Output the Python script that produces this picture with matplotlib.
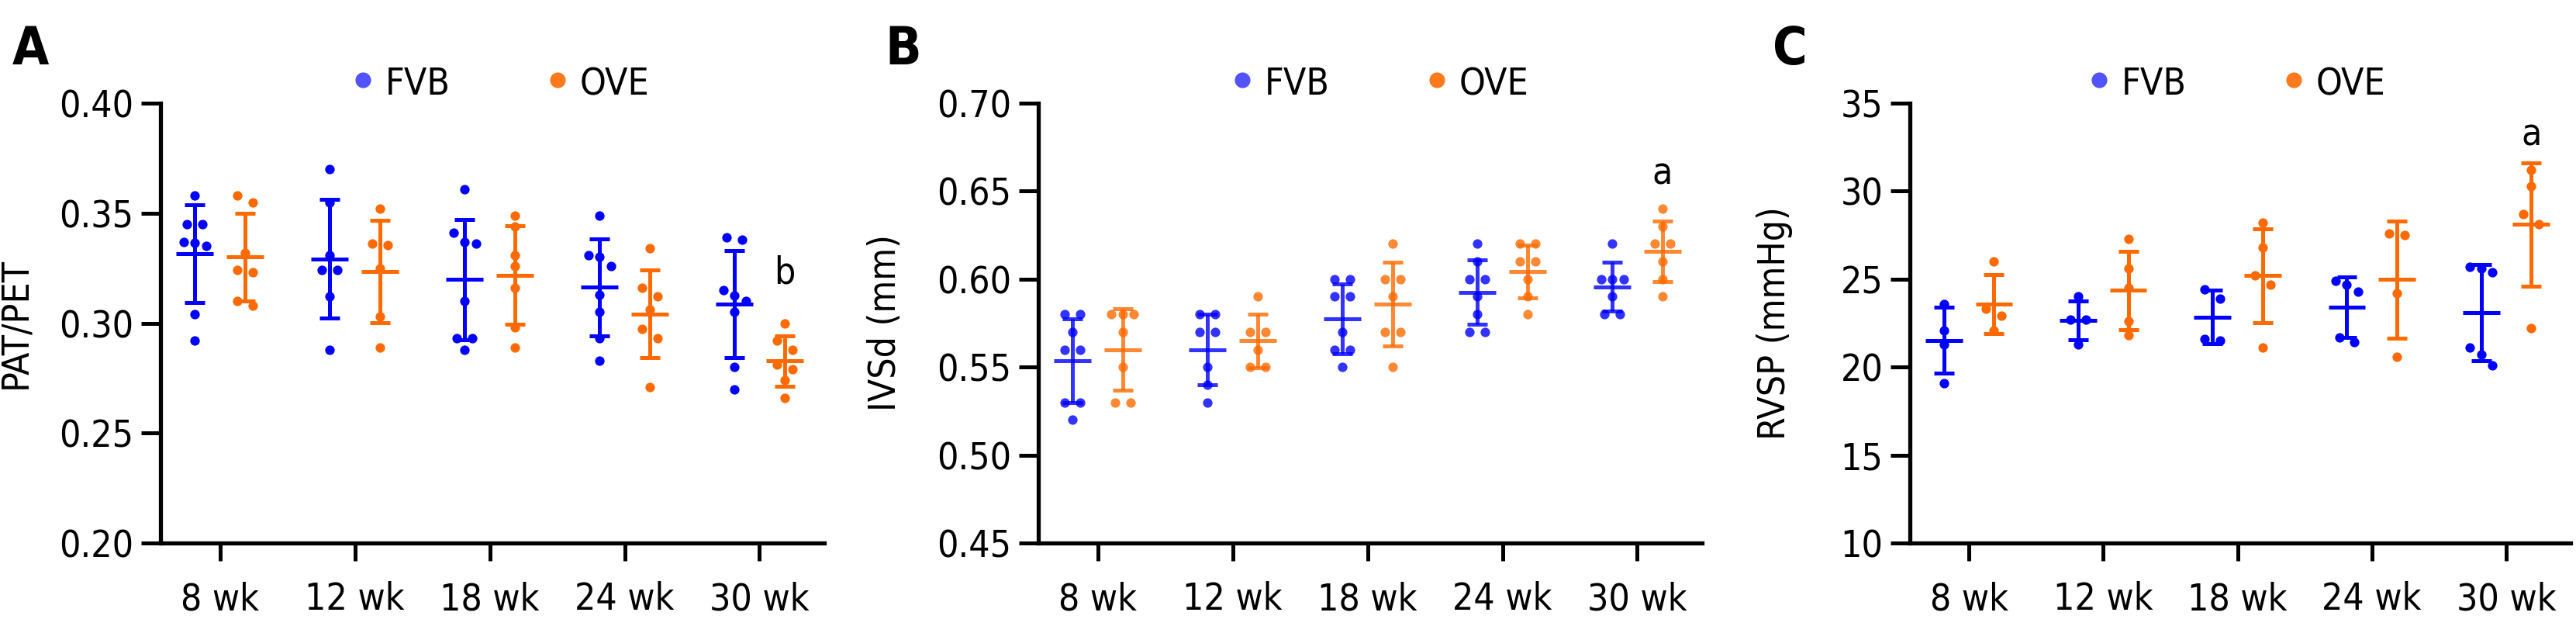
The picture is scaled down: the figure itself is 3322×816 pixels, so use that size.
import numpy as np
import matplotlib
matplotlib.use('Agg')
import matplotlib.pyplot as plt

plt.rcParams['font.family'] = ['DejaVu Sans']
plt.rcParams['font.stretch'] = 'condensed'

weeks = ['8 wk', '12 wk', '18 wk', '24 wk', '30 wk']
groups = ['FVB', 'OVE']

# A: PAT/PET, one list of animals per week
pat_fvb = [
    [0.358, 0.345, 0.345, 0.337, 0.3365, 0.335, 0.304, 0.292],
    [0.370, 0.355, 0.331, 0.324, 0.324, 0.312, 0.288],
    [0.361, 0.341, 0.337, 0.336, 0.310, 0.293, 0.293, 0.288],
    [0.349, 0.331, 0.330, 0.326, 0.313, 0.305, 0.293, 0.283],
    [0.339, 0.338, 0.315, 0.3125, 0.310, 0.305, 0.280, 0.270],
]
pat_ove = [
    [0.358, 0.355, 0.332, 0.324, 0.323, 0.310, 0.308],
    [0.352, 0.336, 0.3355, 0.325, 0.303, 0.289],
    [0.349, 0.344, 0.331, 0.326, 0.316, 0.298, 0.289],
    [0.334, 0.316, 0.312, 0.306, 0.2975, 0.293, 0.271],
    [0.300, 0.292, 0.288, 0.281, 0.279, 0.274, 0.266],
]

# B: IVSd (mm)
ivsd_fvb = [
    [0.58, 0.58, 0.57, 0.56, 0.56, 0.53, 0.53, 0.52],
    [0.58, 0.58, 0.57, 0.57, 0.55, 0.54, 0.53],
    [0.60, 0.60, 0.59, 0.59, 0.57, 0.56, 0.56, 0.55],
    [0.62, 0.61, 0.60, 0.60, 0.59, 0.58, 0.57, 0.57],
    [0.62, 0.60, 0.60, 0.60, 0.59, 0.58, 0.58],
]
ivsd_ove = [
    [0.58, 0.58, 0.58, 0.57, 0.55, 0.53, 0.53],
    [0.59, 0.57, 0.57, 0.56, 0.55, 0.55],
    [0.62, 0.60, 0.60, 0.59, 0.57, 0.57, 0.55],
    [0.62, 0.62, 0.61, 0.61, 0.60, 0.59, 0.58],
    [0.64, 0.63, 0.62, 0.62, 0.61, 0.60, 0.59],
]

# C: RVSP (mmHg)
rvsp_fvb = [
    [23.6, 22.1, 21.3, 19.1],
    [24.0, 22.7, 22.7, 21.3],
    [24.4, 23.9, 21.6, 21.5],
    [24.9, 24.7, 24.3, 21.7, 21.4],
    [25.7, 25.6, 25.4, 21.1, 20.7, 20.1],
]
rvsp_ove = [
    [26.0, 23.3, 22.9, 22.1],
    [27.3, 25.6, 24.5, 22.6, 21.8],
    [28.2, 26.8, 25.2, 24.7, 21.1],
    [27.6, 27.5, 24.2, 20.6],
    [31.2, 30.3, 28.7, 28.1, 22.2],
]

W, H = 3322, 816
FS = 34.5
CAT_PX = 174.0          # pixels between week categories
AX_BOTTOM, AX_TOP = 700, 133

fvb_col, ove_col = '#0000FF', '#FF6A00'
fvb_leg, ove_leg = '#5252FF', '#FF7A1C'


def swarm(vals, px_per_unit):
    # prism-like scatter: close values share a row, centred on the column
    vals = np.asarray(vals, float)
    order = np.argsort(-vals)
    rows, cur = [], [order[0]]
    for i in order[1:]:
        if (vals[cur[-1]] - vals[i]) * px_per_unit < 14:
            cur.append(i)
        else:
            rows.append(cur)
            cur = [i]
    rows.append(cur)
    off = np.zeros(len(vals))
    for row in rows:
        n = len(row)
        for k, i in enumerate(row):
            if n == 2:
                off[i] = (-10 if k == 0 else 10)
            elif n == 3:
                off[i] = (k - 1) * 14.5
            elif n > 3:
                off[i] = (11 if k % 2 == 0 else -11)
    return off / CAT_PX


panels = [
    dict(letter='A', fvb=pat_fvb, ove=pat_ove, ylim=(0.20, 0.40), step=0.05,
         fmt='{:.2f}', ylabel='PAT/PET', left=207, width=856, lab_dx=-164,
         leg_dx=261, mark='b', mark_y=0.318, alpha=1.0, letter_x=16),
    dict(letter='B', fvb=ivsd_fvb, ove=ivsd_ove, ylim=(0.45, 0.70), step=0.05,
         fmt='{:.2f}', ylabel='IVSd (mm)', left=1339, width=856, lab_dx=-174,
         leg_dx=263, mark='a', mark_y=0.654, alpha=0.8, letter_x=1141),
    dict(letter='C', fvb=rvsp_fvb, ove=rvsp_ove, ylim=(10, 35), step=5,
         fmt='{:.0f}', ylabel='RVSP (mmHg)', left=2463, width=852, lab_dx=-151,
         leg_dx=244, mark='a', mark_y=32.6, alpha=1.0, letter_x=2286),
]

fig = plt.figure(figsize=(W / 100, H / 100), dpi=100)

for p in panels:
    ax = fig.add_axes([p['left'] / W, (H - AX_BOTTOM) / H, p['width'] / W,
                       (AX_BOTTOM - AX_TOP) / H])
    y0, y1 = p['ylim']
    ypx = (AX_BOTTOM - AX_TOP) / (y1 - y0)
    x = np.arange(len(weeks))
    for series, col, dx in [(p['fvb'], fvb_col, -0.186), (p['ove'], ove_col, 0.186)]:
        for i, vals in enumerate(series):
            vals = np.asarray(vals)
            xs = x[i] + dx + swarm(vals, ypx)
            ax.scatter(xs, vals, s=78, color=col, alpha=p['alpha'],
                       linewidths=0, zorder=2, clip_on=False)
            m, sd = vals.mean(), vals.std(ddof=1)
            xc = x[i] + dx
            kw = dict(color=col, lw=3.6, alpha=p['alpha'], zorder=3,
                      solid_capstyle='butt', clip_on=False)
            ax.plot([xc, xc], [m - sd, m + sd], **kw)
            ax.plot([xc - 0.075, xc + 0.075], [m + sd, m + sd], **kw)
            ax.plot([xc - 0.075, xc + 0.075], [m - sd, m - sd], **kw)
            ax.plot([xc - 0.138, xc + 0.138], [m, m], **kw)

    ax.set_xlim(-0.44, 4.48)
    ax.set_ylim(y0, y1)
    yt = np.arange(y0, y1 + p['step'] / 2, p['step'])
    ax.set_yticks(yt)
    ax.set_yticklabels([p['fmt'].format(v) for v in yt])
    ax.set_xticks(x)
    ax.set_xticklabels(weeks)
    for s in ['top', 'right']:
        ax.spines[s].set_visible(False)
    for s in ['left', 'bottom']:
        ax.spines[s].set_linewidth(3.8)
        ax.spines[s].set_capstyle('projecting')
    ax.tick_params(axis='y', length=18, width=3.6, pad=7, labelsize=FS)
    ax.tick_params(axis='x', length=16.5, width=3.6, pad=19, labelsize=FS)
    ax.set_ylabel(p['ylabel'], fontsize=FS)
    ax.yaxis.set_label_coords(p['lab_dx'] / p['width'], 0.5)

    # legend above the plot
    ly_m = (AX_BOTTOM - 103) / (AX_BOTTOM - AX_TOP)
    ly_t = (AX_BOTTOM - 122) / (AX_BOTTOM - AX_TOP)
    for name, col, off in [('FVB', fvb_leg, 0), ('OVE', ove_leg, 251)]:
        xm = (p['leg_dx'] + off) / p['width']
        ax.plot([xm], [ly_m], 'o', ms=14.5, color=col, mew=0,
                transform=ax.transAxes, clip_on=False)
        ax.text(xm + 29 / p['width'], ly_t, name, fontsize=FS, va='baseline',
                ha='left', transform=ax.transAxes)

    ax.text(4 + 0.186, p['mark_y'], p['mark'], fontsize=FS, ha='center',
            va='baseline')
    fig.text(p['letter_x'] / W, (H - 83) / H, p['letter'], fontsize=49,
             fontweight='bold', ha='left', va='baseline')

fig.savefig('out.png', dpi=100, facecolor='white')
